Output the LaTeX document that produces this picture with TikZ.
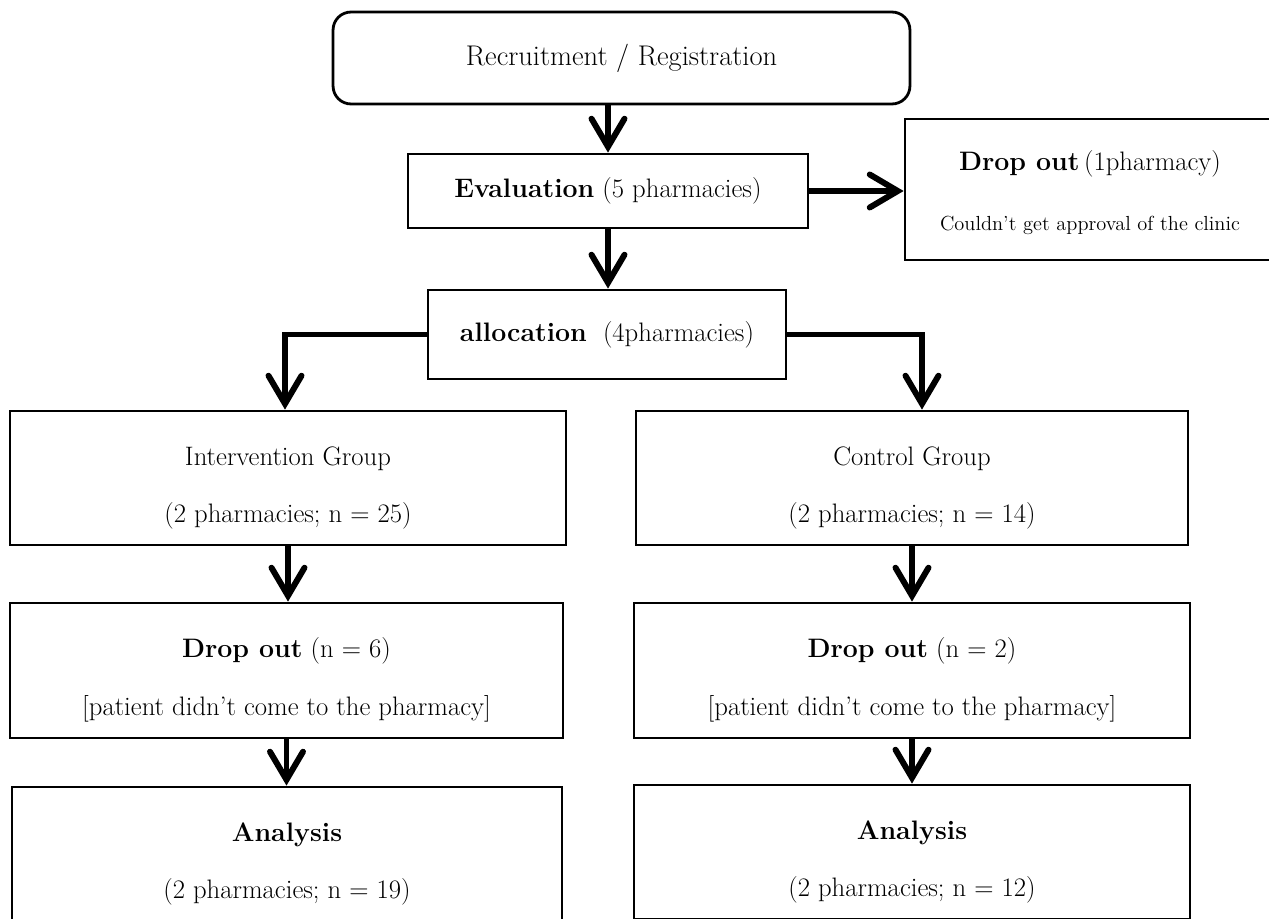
\documentclass[tikz,border=0pt]{standalone}
\usepackage{tikz}
\usetikzlibrary{arrows.meta}
\tikzset{
box/.style={ % plain boxes of the flow
draw,
line width=1.6pt,
align=center,
inner sep=0pt,
font=\fontsize{15.2}{33}\selectfont},
roundbox/.style={ % first box has round corners
box,
rounded corners=0.36cm},
flowarrow/.style={ % thick arrows with open heads
draw,
line width=3.4pt,
-{Straight Barb[length=5.6mm,width=6.6mm,line cap=round,line join=miter]}}}
\newcommand{\lowstrut}{\rule{0pt}{22pt}} % pushes the two lines a bit down

\begin{document}
\begin{tikzpicture}[x=0.02cm,y=-0.02cm]
\useasboundingbox (0,0) rectangle (1269,919);
\fill[white] (0,0) rectangle (1269,919);

\node[roundbox, minimum width=11.54cm, minimum height=1.84cm, font=\fontsize{16.2}{20}\selectfont] (recruit) at (621.5,58) {Recruitment / Registration};
\node[box, minimum width=8cm, minimum height=1.48cm] (eval) at (608,191) {\textbf{Evaluation} (5 pharmacies)};
\node[box, minimum width=7.4cm, minimum height=2.82cm] (dropA) at (1090,189.5)
{\rule{0pt}{15pt}\textbf{Drop out}\,(1pharmacy)\\[1pt] {\fontsize{11.6}{14}\selectfont Couldn't get approval of the clinic}};
\node[box, minimum width=7.16cm, minimum height=1.78cm] (alloc) at (607,334.5) {\textbf{allocation}\ \ (4pharmacies)};

% intervention side
\node[box, minimum width=11.12cm, minimum height=2.68cm] (interv) at (288,478) {\lowstrut Intervention Group\\(2 pharmacies; n = 25)};
\node[box, minimum width=11.06cm, minimum height=2.7cm] (dropL) at (286.5,670.5) {\lowstrut\textbf{Drop out} (n = 6)\\{[}patient didn't come to the pharmacy{]}};
\node[box, minimum width=11cm, minimum height=2.68cm] (anaL) at (287,854) {\lowstrut\textbf{Analysis}\\(2 pharmacies; n = 19)};

% control side
\node[box, minimum width=11.04cm, minimum height=2.68cm] (ctrl) at (912,478) {\lowstrut Control Group\\(2 pharmacies; n = 14)};
\node[box, minimum width=11.12cm, minimum height=2.7cm] (dropR) at (912,670.5) {\lowstrut\textbf{Drop out} (n = 2)\\{[}patient didn't come to the pharmacy{]}};
\node[box, minimum width=11.12cm, minimum height=2.68cm] (anaR) at (912,852) {\lowstrut\textbf{Analysis}\\(2 pharmacies; n = 12)};

\draw[flowarrow] (eval.north |- recruit.south) -- (eval.north);
\draw[flowarrow] (eval.east) -- (eval.east -| dropA.west);
\draw[flowarrow] (eval.south) -- (eval.south |- alloc.north);
\draw[flowarrow] (alloc.west) -| ([xshift=-0.06cm]interv.north);
\draw[flowarrow] (alloc.east) -| ([xshift=0.2cm]ctrl.north);
\draw[flowarrow] (interv.south) -- (interv.south |- dropL.north);
\draw[flowarrow] (dropL.south) -- (dropL.south |- anaL.north);
\draw[flowarrow] (ctrl.south) -- (dropR.north);
\draw[flowarrow] (dropR.south) -- (anaR.north);
\end{tikzpicture}
\end{document}
